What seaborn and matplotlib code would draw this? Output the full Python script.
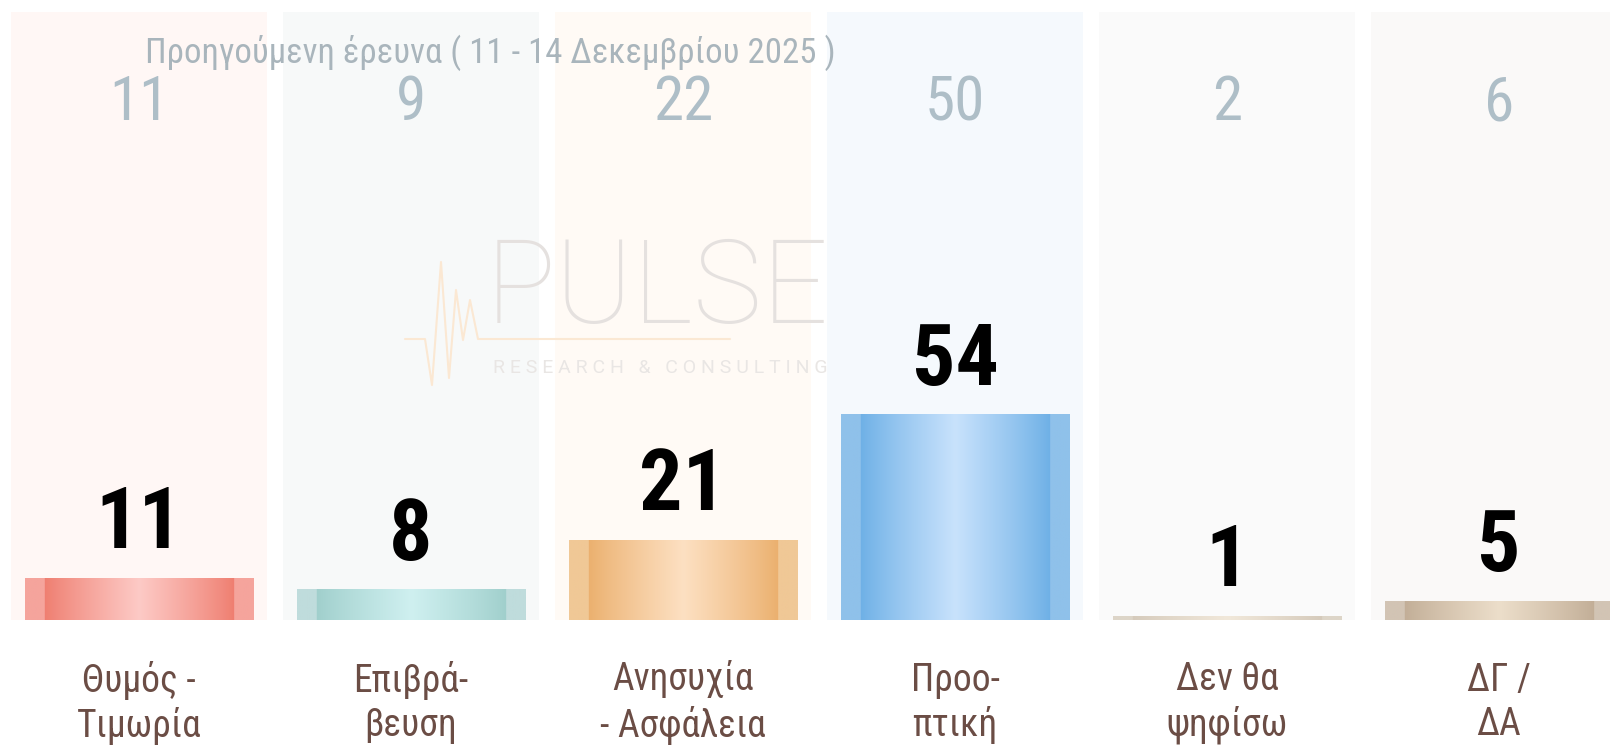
# Pulse poll - bar chart with previous survey values

import numpy as np
import pandas as pd
import matplotlib
matplotlib.use("Agg")
import matplotlib.pyplot as plt
import seaborn as sns
from matplotlib import font_manager
from matplotlib.colors import to_rgb
from matplotlib.lines import Line2D


# Data

categories = ["Θυμός -\nΤιμωρία", "Επιβρά-\nβευση", "Ανησυχία\n- Ασφάλεια",
              "Προο-\nπτική", "Δεν θα\nψηφίσω", "ΔΓ /\nΔΑ"]
current = [11, 8, 21, 54, 1, 5]
previous = [11, 9, 22, 50, 2, 6]
subtitle = "Προηγούμενη έρευνα ( 11 - 14 Δεκεμβρίου 2025 )"

# colours: column background, outer strip, dark edge, light centre
bg_colors = ["#fff7f5", "#f7f9f9", "#fffaf5", "#f5f9fd", "#fafafa", "#faf9f8"]
strip_colors = ["#f5a49c", "#bfdcdc", "#f0c896", "#8fc1ea", "#ddd5c8", "#d2c4b4"]
dark_colors = ["#ef7e70", "#a0cfcc", "#ebb06e", "#6eb0e6", "#d5cabb", "#c2ae97"]
light_colors = ["#fdcac6", "#cff0f0", "#fde0c2", "#c8e2fc", "#f1e8da", "#ecdeca"]


sns.set_theme(style="white")
names = {f.name for f in font_manager.fontManager.ttflist}
narrow = "Roboto"
for cand in ["Roboto Condensed", "Liberation Sans Narrow", "Open Sans Condensed"]:
    if cand in names:
        narrow = cand
        break
plt.rcParams["font.family"] = [narrow, "DejaVu Sans"]

df = pd.DataFrame({"category": categories, "value": current})

fig = plt.figure(figsize=(16.1, 7.45), dpi=100)
# one category slot = 272 px, baseline at y=620 px, 3.8 px per unit
ax = fig.add_axes([3 / 1610, 125 / 745, 1632 / 1610, 608 / 745])
ax.set_xlim(-0.5, 5.5)
ax.set_ylim(0, 160)

# background columns
ax.bar(range(len(categories)), [160] * len(categories), width=0.94,
       color=bg_colors, zorder=0, linewidth=0)

sns.barplot(data=df, x="category", y="value", hue="category",
            palette=strip_colors, width=0.84, legend=False,
            saturation=1, ax=ax, zorder=2, linewidth=0)
ax.set_xlim(-0.5, 5.5)
ax.set_ylim(0, 160)


def gradient_row(strip, dark, light, n=300):
    t = np.linspace(0, 1, n)
    s = np.clip((t - 0.085) / 0.83, 0, 1)
    w = (1 - np.abs(2 * s - 1)) ** 0.9
    dark, light, strip = map(np.array, (to_rgb(dark), to_rgb(light), to_rgb(strip)))
    row = dark[None, :] + (light - dark)[None, :] * w[:, None]
    edge = (t < 0.085) | (t > 0.915)
    row[edge] = strip
    return row[None, :, :]


patches = [c.patches[0] for c in ax.containers[1:]]
for i, p in enumerate(patches):
    x0 = p.get_x()
    x1 = x0 + p.get_width()
    h = p.get_height()
    img = gradient_row(strip_colors[i], dark_colors[i], light_colors[i])
    ax.imshow(img, extent=(x0, x1, 0, h), aspect="auto", zorder=3,
              interpolation="bilinear")
ax.set_xlim(-0.5, 5.5)
ax.set_ylim(0, 160)

# value labels
for i, v in enumerate(current):
    ax.text(i, v + 14, str(v), ha="center", va="center", fontsize=62,
            fontweight="bold", color="black", zorder=5)

# previous survey values
for i, v in enumerate(previous):
    ax.text(i, 136.0, str(v), ha="center", va="center", fontsize=44,
            color="#aebec7", zorder=5)

sub_size = 25 if narrow != "Roboto" else 22
ax.text(1.29, 149.3, subtitle, ha="center", va="center", fontsize=sub_size,
        color="#a9b5bc", zorder=5)

# category labels
lab_size = 27 if narrow != "Roboto" else 25
for i, c in enumerate(categories):
    ax.text(i, -21.8, c, ha="center", va="center", fontsize=lab_size,
            color="#6b4d45", linespacing=1.25, clip_on=False)

ax.set_xticks([])
ax.set_yticks([])
ax.set_xlabel("")
ax.set_ylabel("")
sns.despine(ax=ax, left=True, bottom=True)

# watermark
fig.text(486 / 1610, (745 - 323) / 745, "PULSE", fontsize=84,
         family="Roboto", fontweight="light", color="#e5e1df",
         ha="left", va="baseline", zorder=1)
fig.text(493 / 1610, (745 - 368) / 745, " ".join("RESEARCH & CONSULTING"),
         fontsize=14, family="Roboto", color="#e9e6e4",
         ha="left", va="center", zorder=1)
px = np.array([405, 425, 432, 441, 449, 456, 463, 470, 478, 730])
py = np.array([339, 339, 385, 262, 378, 290, 340, 300, 339, 339])
fig.add_artist(Line2D(px / 1610, (745 - py) / 745, color="#fbe8d3",
                      linewidth=1.5, zorder=1))

plt.savefig("out.png", dpi=100)
